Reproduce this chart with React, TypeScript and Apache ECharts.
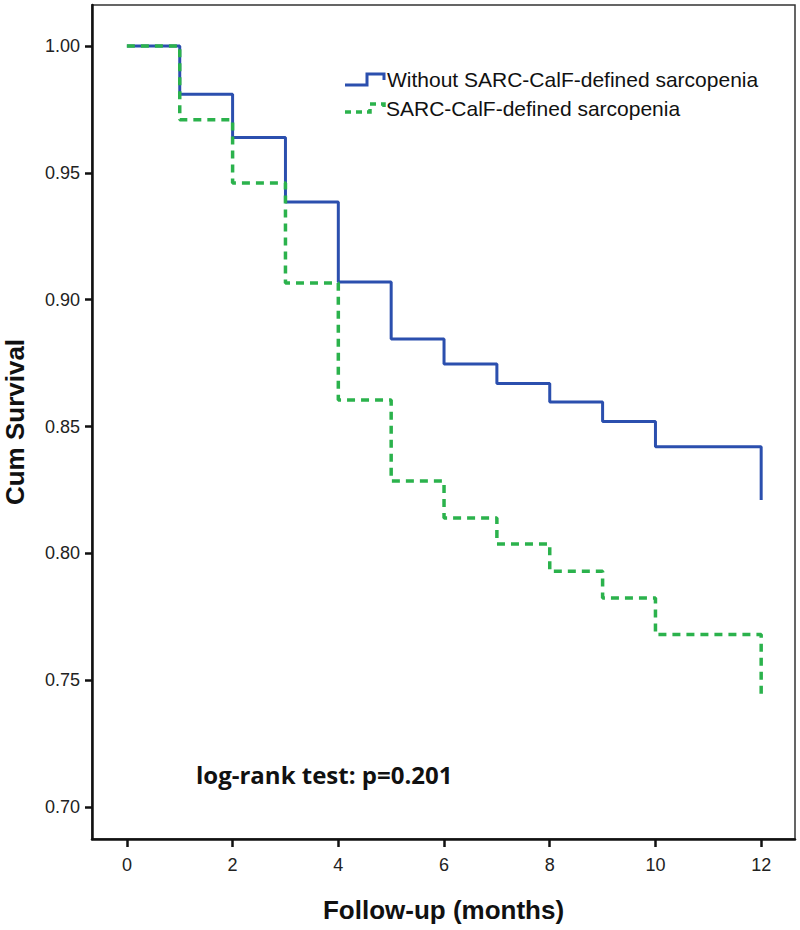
import React, { useEffect, useRef } from "react";
import * as echarts from "echarts";

const months = [0, 1, 2, 3, 4, 5, 6, 7, 8, 9, 10, 12, 12];
const withoutSarcopenia = [1.0, 0.981, 0.964, 0.9385, 0.907, 0.8845, 0.8747, 0.867, 0.8597, 0.852, 0.842, 0.842, 0.821];
const withSarcopenia = [1.0, 0.971, 0.946, 0.9066, 0.8605, 0.8285, 0.814, 0.8037, 0.793, 0.7824, 0.768, 0.768, 0.7434];
const xTicks = [0, 2, 4, 6, 8, 10, 12];
const yTicks = [0.7, 0.75, 0.8, 0.85, 0.9, 0.95, 1.0];
const seriesNames = ["Without SARC-CalF-defined sarcopenia", "SARC-CalF-defined sarcopenia"];
const annotation = "log-rank test: p=0.201";

const BLUE = "#2b4fae";
const GREEN = "#2bb24c";

export default function App() {
  const ref = useRef<HTMLDivElement>(null);
  useEffect(() => {
    if (!ref.current) return;
    const chart = echarts.init(ref.current, null, { renderer: "svg" });
    const pts = (ys: number[]) => months.map((m, i) => [m, ys[i]]);
    chart.setOption({
      animation: false,
      backgroundColor: "#ffffff",
      grid: {
        left: 92,
        right: 5,
        top: 5,
        bottom: 91,
        show: true,
        borderColor: "#333",
        borderWidth: 1.5,
        containLabel: false,
        outerBoundsMode: "none",
      },
      xAxis: {
        type: "value",
        min: -0.66,
        max: 12.64,
        name: "Follow-up (months)",
        nameLocation: "middle",
        nameGap: 58,
        nameTextStyle: { fontFamily: "Liberation Sans", fontWeight: "bold", fontSize: 26, color: "#111" },
        axisLine: { show: true, onZero: false, lineStyle: { color: "#111", width: 2.5 } },
        axisTick: { show: true, customValues: xTicks, length: 8, lineStyle: { color: "#111", width: 2.5 } },
        axisLabel: {
          customValues: xTicks,
          margin: 17,
          fontFamily: "Liberation Sans",
          fontSize: 18,
          color: "#222",
        },
        splitLine: { show: false },
      },
      yAxis: {
        type: "value",
        min: 0.6874,
        max: 1.0162,
        name: "Cum Survival",
        nameLocation: "middle",
        nameGap: 64,
        nameRotate: 90,
        nameTextStyle: { fontFamily: "Liberation Sans", fontWeight: "bold", fontSize: 26, color: "#111" },
        axisLine: { show: true, onZero: false, lineStyle: { color: "#111", width: 2.5 } },
        axisTick: { show: true, customValues: yTicks, length: 7, lineStyle: { color: "#111", width: 2.5 } },
        axisLabel: {
          customValues: yTicks,
          margin: 12,
          fontFamily: "Liberation Sans",
          fontSize: 18,
          color: "#222",
          formatter: (v: number) => v.toFixed(2),
        },
        splitLine: { show: false },
      },
      series: [
        {
          name: seriesNames[0],
          type: "line",
          step: "end",
          data: pts(withoutSarcopenia),
          showSymbol: false,
          symbol: "none",
          lineStyle: { color: BLUE, width: 3 },
          z: 3,
        },
        {
          name: seriesNames[1],
          type: "line",
          step: "end",
          data: pts(withSarcopenia),
          showSymbol: false,
          symbol: "none",
          lineStyle: { color: GREEN, width: 3.5, type: [8, 6] },
          z: 4,
        },
      ],
      graphic: [
        {
          type: "polyline",
          shape: { points: [[345, 85], [367, 85], [367, 74], [384, 74], [384, 80]] },
          style: { stroke: BLUE, lineWidth: 3, fill: null },
        },
        {
          type: "polyline",
          shape: { points: [[345, 112], [370, 112], [370, 104], [384, 104], [384, 111]] },
          style: { stroke: GREEN, lineWidth: 3.5, fill: null, lineDash: [6, 5] },
        },
        {
          type: "text",
          left: 387,
          top: 69,
          style: { text: seriesNames[0], fontFamily: "Liberation Sans", fontSize: 21, fill: "#111" },
        },
        {
          type: "text",
          left: 386,
          top: 98,
          style: { text: seriesNames[1], fontFamily: "Liberation Sans", fontSize: 21, fill: "#111" },
        },
        {
          type: "text",
          left: 196,
          top: 762,
          style: { text: annotation, fontFamily: "Open Sans", fontWeight: "bold", fontSize: 24, fill: "#111" },
        },
      ],
    });
    return () => chart.dispose();
  }, []);
  return <div ref={ref} style={{ position: "absolute", left: 0, top: 0, width: 800, height: 930 }} />;
}
